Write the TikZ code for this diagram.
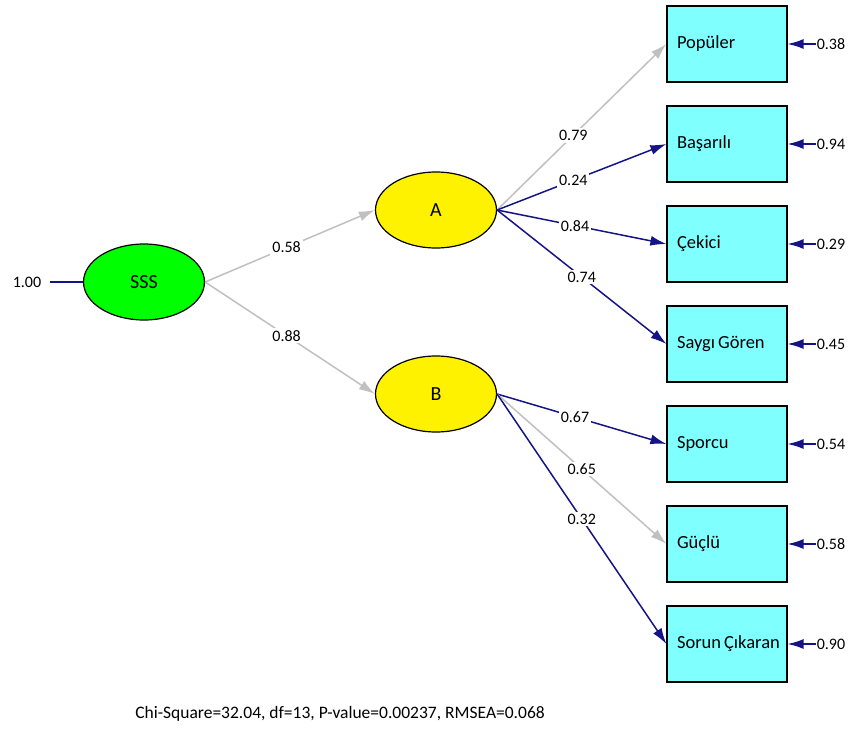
\documentclass[tikz,border=0pt]{standalone}
\usepackage{fontspec}
\setmainfont{Carlito}
\usetikzlibrary{shapes.geometric,arrows.meta}
\definecolor{navy}{RGB}{20,20,135}
\definecolor{boxcyan}{RGB}{128,255,255}
\definecolor{pathgrey}{RGB}{192,192,192}

\begin{document}
\begin{tikzpicture}[x=1pt,y=-1pt,
  latent/.style={ellipse,draw=black,line width=1.2pt,minimum width=121pt,minimum height=76pt,inner sep=0pt,font=\fontsize{20}{22}\selectfont},
  observed/.style={rectangle,draw=black,line width=1.2pt,fill=boxcyan,minimum height=76pt,text width=100pt,inner xsep=10pt,align=left,font=\fontsize{18.5}{20}\selectfont},
  coef/.style={fill=white,inner sep=2pt,font=\fontsize{16}{18}\selectfont},
  errnum/.style={inner sep=1pt,font=\fontsize{16}{18}\selectfont},
  blue path/.style={draw=navy,line width=1.5pt,-{Latex[length=16pt,width=10pt]}},
  grey path/.style={draw=pathgrey,line width=1.5pt,-{Latex[length=16pt,width=10pt]}}]
\useasboundingbox (0,0) rectangle (853,731);

% latent variables
\node[latent,fill=green] (sss) at (144,282) {SSS};
\node[latent,fill=yellow] (a) at (436,210) {A};
\node[latent,fill=yellow] (b) at (436,394) {B};

% indicators
\node[observed] (populer) at (727,44) {Popüler};
\node[observed] (basarili) at (727,144) {Başarılı};
\node[observed] (cekici) at (727,244) {Çekici};
\node[observed] (saygi) at (727,344) {\mbox{Saygı\hspace{3pt}Gören}};
\node[observed] (sporcu) at (727,444) {Sporcu};
\node[observed] (guclu) at (727,544) {Güçlü};
\node[observed] (sorun) at (727,644) {\mbox{Sorun\hspace{3pt}Çıkaran}};

% variance of SSS
\node[errnum] (var) at (27,282) {1.00};
\draw[navy,line width=1.5pt] (var.east) ++(8,0) -- (sss.west);

% structural paths
\draw[grey path] (sss.east) -- node[coef,pos=0.48] {0.58} (a.west);
\draw[grey path] (sss.east) -- node[coef,pos=0.48] {0.88} (b.west);

% loadings of A
\draw[grey path] (a.east) -- node[coef,pos=0.45] {0.79} (populer.west);
\draw[blue path] (a.east) -- node[coef,pos=0.45] {0.24} (basarili.west);
\draw[blue path] (a.east) -- node[coef,pos=0.46] {0.84} (cekici.west);
\draw[blue path] (a.east) -- node[coef,pos=0.5] {0.74} (saygi.west);

% loadings of B
\draw[blue path] (b.east) -- node[coef,pos=0.46] {0.67} (sporcu.west);
\draw[grey path] (b.east) -- node[coef,pos=0.5] {0.65} (guclu.west);
\draw[blue path] (b.east) -- node[coef,pos=0.5] {0.32} (sorun.west);

% error variances
\node[errnum] (e1) at (831,44) {0.38};
\node[errnum] (e2) at (831,144) {0.94};
\node[errnum] (e3) at (831,244) {0.29};
\node[errnum] (e4) at (831,344) {0.45};
\node[errnum] (e5) at (831,444) {0.54};
\node[errnum] (e6) at (831,544) {0.58};
\node[errnum] (e7) at (831,644) {0.90};
\draw[blue path] (e1.west) -- (populer.east);
\draw[blue path] (e2.west) -- (basarili.east);
\draw[blue path] (e3.west) -- (cekici.east);
\draw[blue path] (e4.west) -- (saygi.east);
\draw[blue path] (e5.west) -- (sporcu.east);
\draw[blue path] (e6.west) -- (guclu.east);
\draw[blue path] (e7.west) -- (sorun.east);

% fit statistics
\node[font=\fontsize{17.5}{19}\selectfont] (fit) at (340,714) {Chi-Square=32.04, df=13, P-value=0.00237, RMSEA=0.068};
\end{tikzpicture}
\end{document}
